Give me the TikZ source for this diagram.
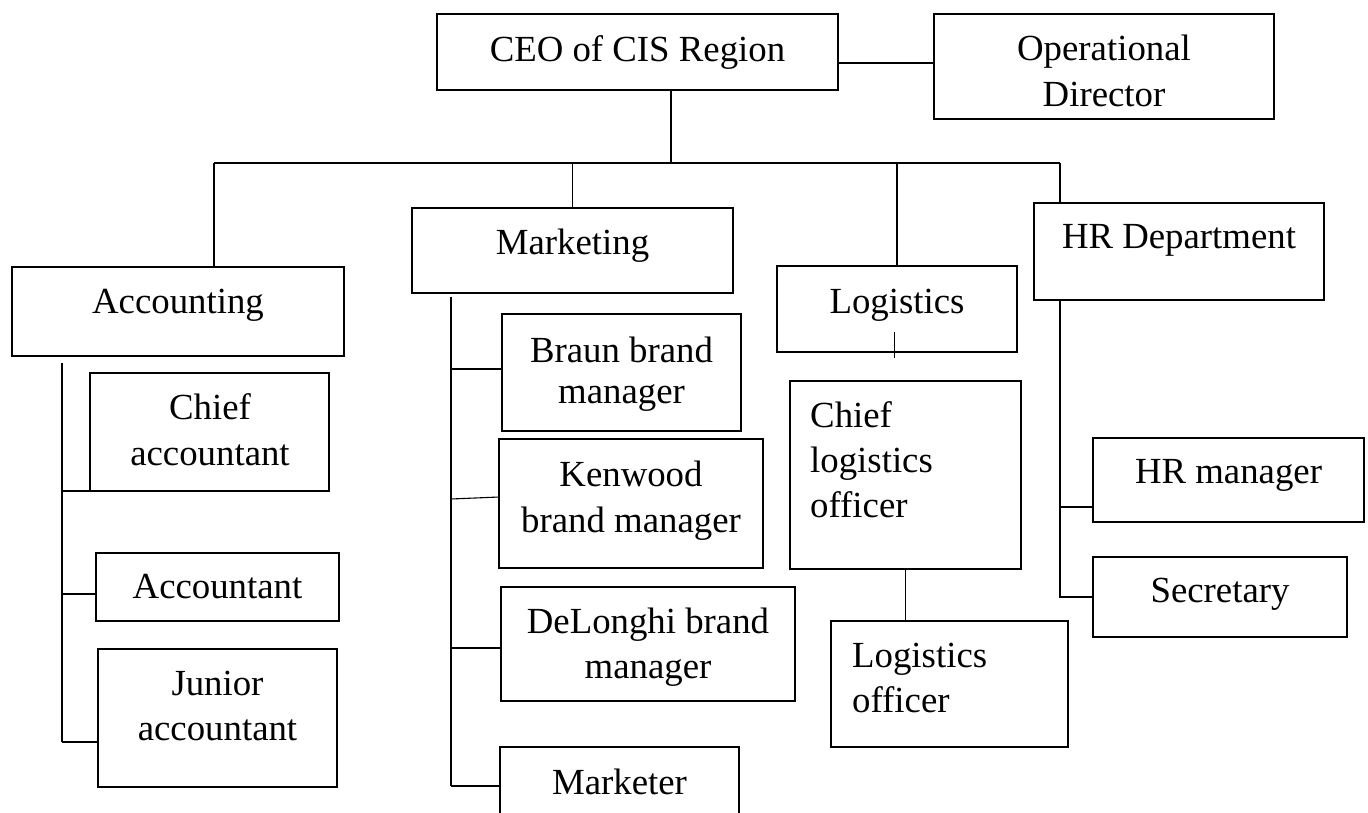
\documentclass[tikz,border=0pt]{standalone}
\usepackage{fontspec}
\setmainfont{Liberation Serif}
\usetikzlibrary{fit}
\begin{document}
\begin{tikzpicture}[x=1pt,y=-1pt,
  box/.style={draw, line width=1.1pt, inner sep=0pt, outer sep=0pt},
  % multi-line labels are placed by the baseline of their last line
  lbl/.style={anchor=base, inner sep=0pt, align=center, font=\fontsize{36.8}{45}\selectfont},
  lbll/.style={lbl, anchor=base west, align=left},
  link/.style={line width=1.1pt}]
\useasboundingbox (0,0) rectangle (1368,812);

% ---- boxes ----
\node[box, fit={(437,14) (838,90)}]    (ceo)   {};
\node[box, fit={(934,14) (1274,119)}]  (od)    {};
\node[box, fit={(12,267) (344,356)}]   (acc)   {};
\node[box, fit={(412,208) (733,293)}]  (mkt)   {};
\node[box, fit={(777,266) (1017,352)}] (log)   {};
\node[box, fit={(1034,203) (1324,300)}] (hr)   {};
\node[box, fit={(90,373) (329,491)}]   (chief) {};
\node[box, fit={(96,553) (339,621)}]   (acct)  {};
\node[box, fit={(98,649) (337,787)}]   (jun)   {};
\node[box, fit={(502,314) (741,431)}]  (braun) {};
\node[box, fit={(499,439) (763,568)}]  (ken)   {};
\node[box, fit={(501,587) (795,701)}]  (delo)  {};
\node[box, fit={(500,747) (739,830)}]  (mktr)  {};
\node[box, fit={(790,381) (1021,569)}] (chlog) {};
\node[box, fit={(831,621) (1068,747)}] (lo)    {};
\node[box, fit={(1093,438) (1364,522)}] (hrm)  {};
\node[box, fit={(1093,557) (1347,637)}] (sec)  {};

% ---- labels ----
\node[lbl] (t-ceo)   at (637.5,61) {CEO of CIS Region};
\node[lbl, font=\fontsize{36.8}{46}\selectfont] (t-od) at (1104,106) {Operational\\Director};
\node[lbl] (t-acc)   at (178,313)  {Accounting};
\node[lbl] (t-mkt)   at (572.5,254) {Marketing};
\node[lbl] (t-log)   at (897,313)  {Logistics};
\node[lbl] (t-hr)    at (1179,248) {HR Department};
\node[lbl, font=\fontsize{36.8}{46}\selectfont] (t-chief) at (210,465) {Chief\\accountant};
\node[lbl] (t-acct)  at (217.5,598) {Accountant};
\node[lbl] (t-jun)   at (217.5,740) {Junior\\accountant};
\node[lbl, font=\fontsize{36.8}{41}\selectfont] (t-braun) at (621.5,403) {Braun brand\\manager};
\node[lbl, font=\fontsize{36.8}{46}\selectfont] (t-ken) at (631,532) {Kenwood\\brand manager};
\node[lbl] (t-delo)  at (648,678)  {DeLonghi brand\\manager};
\node[lbll] (t-chlog) at (810,517) {Chief\\logistics\\officer};
\node[lbll] (t-lo)   at (852,712)  {Logistics\\officer};
\node[lbl] (t-mktr)  at (619.5,794) {Marketer};
\node[lbl] (t-hrm)   at (1228.5,483) {HR manager};
\node[lbl] (t-sec)   at (1220,602) {Secretary};

% ---- top level ----
\draw[link] ([yshift=-11pt]ceo.east) -- ([yshift=-11pt]ceo.east -| od.west);
\coordinate (busL) at (214,163);
\coordinate (busR) at (1060,163);
\draw[link] ([xshift=33.5pt]ceo.south) -- ([xshift=33.5pt]ceo.south |- busL);
\draw[link] (busL) -- (busR);
\draw[link] (busL) -- (acc.north -| busL);
\draw[link] (mkt.north |- busL) -- (mkt.north);
\draw[link] (log.north |- busL) -- (log.north);
\draw[link] (busR) -- (hr.north -| busR);

% ---- accounting ----
\coordinate (accTop) at (62,363);
\coordinate (accBot) at (62,742);
\draw[link] (accTop) -- (accBot);
\draw[link] (chief.south west -| accTop) -- (chief.south west);
\draw[link] ([yshift=-7pt]acct.west -| accTop) -- ([yshift=-7pt]acct.west);
\draw[link] (accBot) -- ([yshift=-24pt]jun.west);

% ---- marketing ----
\coordinate (mktTop) at (451,297);
\coordinate (mktBot) at (451,786);
\coordinate (kenB) at (451,499);
\draw[link] (mktTop) -- (mktBot);
\draw[link] ([yshift=3.5pt]braun.west -| mktTop) -- ([yshift=3.5pt]braun.west);
\draw[link] (kenB) -- ([yshift=6.5pt]ken.west);
\draw[link] ([yshift=-4pt]delo.west -| mktTop) -- ([yshift=-4pt]delo.west);
\draw[link] (mktBot) -- ([yshift=2.5pt]mktr.west);

% ---- logistics ----
\draw[line width=0.8pt] ([xshift=-3pt,yshift=20pt]log.south) -- ([xshift=-3pt,yshift=-6pt]log.south);
\draw[link] (chlog.south) -- (chlog.south |- lo.north);

% ---- HR ----
\coordinate (hrBot) at (1060,598);
\draw[link] (hr.south -| busR) -- (hrBot);
\draw[link] ([yshift=-27pt]hrm.west -| hrBot) -- ([yshift=-27pt]hrm.west);
\draw[link] (sec.west -| hrBot) -- (sec.west);
\end{tikzpicture}
\end{document}
